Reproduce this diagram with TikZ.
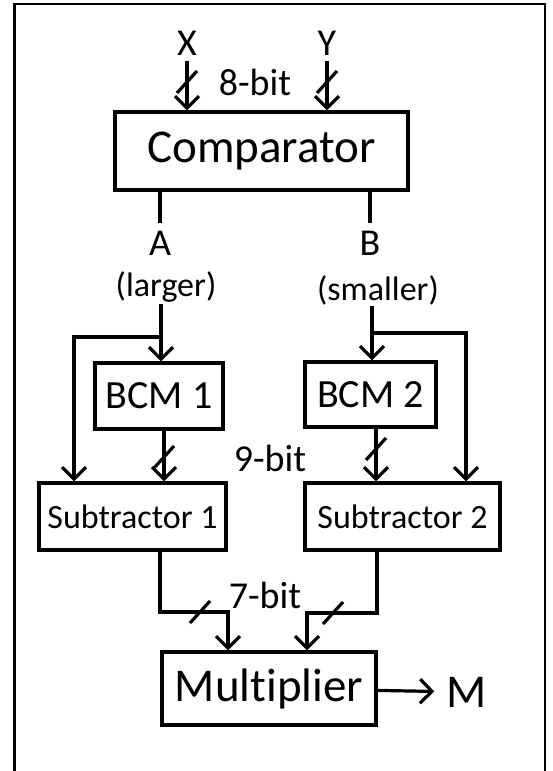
\documentclass[tikz,border=0pt]{standalone}
\usepackage{fontspec}
\setmainfont{Carlito}[Ligatures=NoCommon]
\usetikzlibrary{arrows.meta,positioning}

\newcommand{\bigfont}{\fontsize{47}{47}\selectfont}
\newcommand{\midfont}{\fontsize{40}{40}\selectfont}
\newcommand{\lblfont}{\fontsize{38}{38}\selectfont}
\newcommand{\smallfont}{\fontsize{34}{34}\selectfont}

\begin{document}
\begin{tikzpicture}[x=1pt, y=-1pt, line width=3.2pt,
	block/.style={draw, rectangle, inner sep=0pt, line width=3.4pt},
	lbl/.style={inner sep=0pt, font=\lblfont},
	bus/.style={line width=3.2pt},
	>={Straight Barb[length=12pt,width=24pt,line width=3.2pt]}]

\useasboundingbox (0,0) rectangle (552,771);
% outer frame, open at the bottom
\draw[line width=2.4pt] (14.5,771) -- (14.5,4) -- (544.7,4) -- (544.7,771);

% blocks
\node[block, minimum width=293pt, minimum height=78pt, font=\bigfont] (cmp) at (261.5,151) {Comparator};
\node[block, minimum width=128pt, minimum height=66pt, font=\midfont] (bcm1) at (159,396) {BCM 1};
\node[block, minimum width=131pt, minimum height=65pt, font=\midfont] (bcm2) at (370.5,394.5) {BCM 2};
\node[block, minimum width=187pt, minimum height=67pt, font=\smallfont] (sub1) at (132.5,516.5) {Subtractor 1};
\node[block, minimum width=195pt, minimum height=67pt, font=\smallfont] (sub2) at (402.5,516.5) {Subtractor 2};
\node[block, minimum width=214pt, minimum height=73pt, font=\bigfont] (mul) at (269,688.5) {Multiplier};

% inputs and labels
\node[lbl] (x) at (187,43) {X};
\node[lbl] (y) at (327,43) {Y};
\node[lbl] (bits8) at (255,82) {8-bit};
\node[lbl] (a) at (160,243) {A};
\node[lbl, font=\smallfont] (larger) at (166,287) {(larger)};
\node[lbl] (b) at (370,243) {B};
\node[lbl, font=\smallfont] (smaller) at (378,290) {(smaller)};
\node[lbl] (bits9) at (270,458) {9-bit};
\node[lbl] (bits7) at (265,595) {7-bit};
\node[lbl, font=\bigfont] (m) at (467,692) {M};

% bends of the wires
\coordinate (ajoin) at (161,337);
\coordinate (aleft) at (74,337);
\coordinate (bjoin) at (372,333);
\coordinate (bright) at (466,333);
\coordinate (w1) at (164,457);
\coordinate (w2) at (376,449);
\coordinate (s1bend) at (160,612);
\coordinate (s1turn) at (228,612);
\coordinate (s2bend) at (377,613);
\coordinate (s2turn) at (307,613);

% wires
\draw[->, shorten <=4pt] (x) -- (x |- cmp.north);
\draw[->, shorten <=4pt] (y) -- (y |- cmp.north);
\draw[shorten >=6pt] (cmp.south -| a) -- (a);
\draw[shorten >=6pt] (cmp.south -| b) -- (b);
\draw[->] (larger.south -| ajoin) -- (ajoin) -- (ajoin |- bcm1.north);
\draw[->] (ajoin) -- (aleft) -- (aleft |- sub1.north);
\draw[->] (smaller.south -| bjoin) -- (bjoin) -- (bjoin |- bcm2.north);
\draw[->] (bjoin) -- (bright) -- (bright |- sub2.north);
\draw[->] (bcm1.south -| w1) -- (w1 |- sub1.north);
\draw[->] (bcm2.south -| w2) -- (w2 |- sub2.north);
\draw[->] (sub1.south -| s1bend) -- (s1bend) -- (s1turn) -- (s1turn |- mul.north);
\draw[->] (sub2.south -| s2bend) -- (s2bend) -- (s2turn) -- (s2turn |- mul.north);
\draw[->, shorten >=11pt] (mul) -- (m);

% bus width marks
\foreach \px/\py in {187/82, 327/82, 164/457, 376/449, 200/612, 333/613}
	\draw[bus] (\px,\py) ++(-10,11) -- ++(20,-22);
\end{tikzpicture}
\end{document}
